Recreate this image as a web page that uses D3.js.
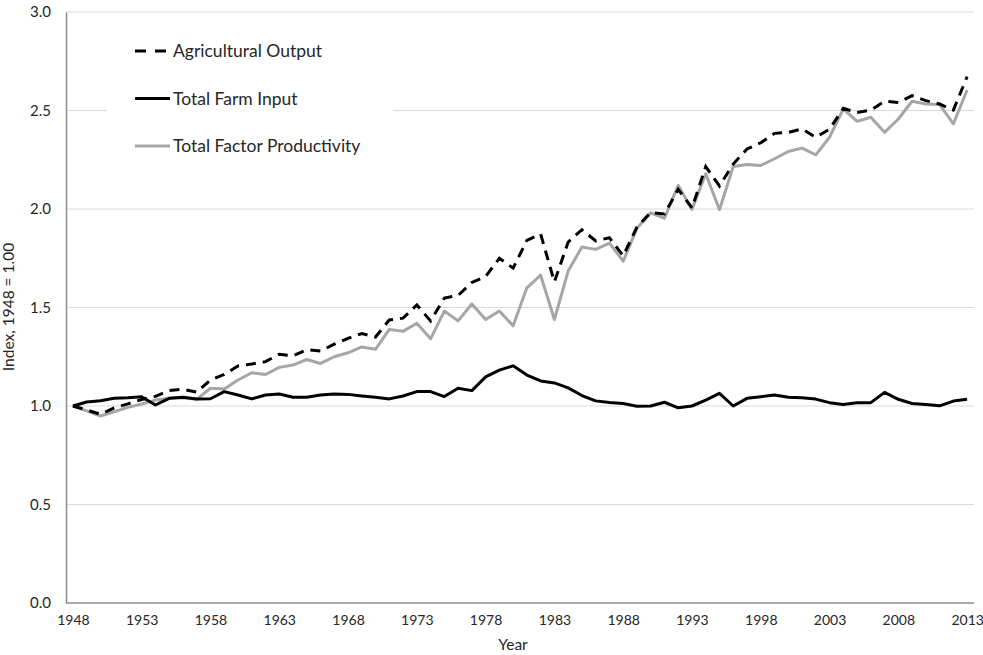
<!DOCTYPE html>
<html><head><meta charset="utf-8">
<script src="https://cdn.jsdelivr.net/npm/d3@7"></script>
<style>
body{margin:0;background:#fff;}
svg text{font-family:Lato,"Open Sans",sans-serif;fill:#262626;}
</style></head>
<body>
<svg id="c" width="983" height="655"></svg>
<script>
const years = d3.range(1948, 2014);
const tickYears = [1948,1953,1958,1963,1968,1973,1978,1983,1988,1993,1998,2003,2008,2013];
const yTicks = [0,0.5,1.0,1.5,2.0,2.5,3.0];
const seriesNames = ["Agricultural Output","Total Farm Input","Total Factor Productivity"];
const output = [1.00,0.98,0.958,0.99,1.011,1.033,1.049,1.078,1.085,1.07,1.132,1.16,1.203,1.213,1.225,1.263,1.255,1.286,1.279,1.314,1.343,1.368,1.35,1.437,1.446,1.513,1.432,1.548,1.561,1.627,1.657,1.75,1.70,1.841,1.873,1.63,1.832,1.895,1.838,1.854,1.762,1.908,1.982,1.975,2.10,2.005,2.215,2.117,2.228,2.305,2.336,2.384,2.389,2.407,2.364,2.405,2.511,2.49,2.502,2.547,2.541,2.575,2.55,2.533,2.502,2.672];
const input = [1.0,1.020,1.027,1.039,1.042,1.047,1.005,1.039,1.044,1.036,1.037,1.073,1.056,1.036,1.056,1.061,1.044,1.044,1.056,1.061,1.059,1.051,1.044,1.036,1.051,1.073,1.073,1.048,1.09,1.078,1.148,1.182,1.204,1.157,1.127,1.117,1.092,1.053,1.026,1.018,1.013,0.999,1.0,1.019,0.991,1.0,1.03,1.064,1.0,1.039,1.047,1.056,1.044,1.042,1.035,1.017,1.008,1.017,1.017,1.069,1.034,1.013,1.008,1.001,1.025,1.034];
const tfp = [1.0,0.975,0.949,0.971,0.993,1.01,1.03,1.039,1.042,1.034,1.09,1.086,1.132,1.169,1.16,1.196,1.208,1.236,1.216,1.25,1.27,1.30,1.288,1.389,1.379,1.42,1.341,1.482,1.432,1.518,1.439,1.482,1.407,1.6,1.664,1.439,1.685,1.807,1.795,1.827,1.735,1.902,1.981,1.953,2.12,1.998,2.179,1.996,2.216,2.226,2.221,2.255,2.292,2.309,2.275,2.364,2.508,2.445,2.466,2.389,2.457,2.547,2.533,2.53,2.432,2.604];

const svg = d3.select("#c");
const L=66, R=974, T=12, B=603;
const x = d3.scalePoint().domain(years).range([L,R]).padding(0.5);
const y = d3.scaleLinear().domain([0,3]).range([B,T]);

// gridlines
svg.append("g").selectAll("line").data(yTicks.filter(d=>d>0)).join("line")
  .attr("x1",L).attr("x2",R).attr("y1",d=>y(d)).attr("y2",d=>y(d))
  .attr("stroke","#d9d9d9").attr("stroke-width",1);

// axes
const yAxis = svg.append("g").attr("transform",`translate(${L},0)`)
  .call(d3.axisLeft(y).tickValues(yTicks).tickFormat(d3.format(".1f")).tickSize(0).tickPadding(15));
yAxis.select(".domain").attr("stroke","#8c8c8c").attr("stroke-width",1.5);
yAxis.selectAll("text").attr("font-size","15px").style("font-family","Lato");

const xAxis = svg.append("g").attr("transform",`translate(0,${B})`)
  .call(d3.axisBottom(x).tickValues(tickYears).tickSize(0).tickPadding(12));
xAxis.select(".domain").attr("stroke","#8c8c8c").attr("stroke-width",1.5).attr("d",`M${L},0H${R}`);
xAxis.selectAll("text").attr("font-size","14px").style("font-family","Lato");

svg.append("text").attr("x",513).attr("y",650).attr("text-anchor","middle").attr("font-size","15.5px").text("Year");
svg.append("text").attr("transform","translate(14,307) rotate(-90)").attr("text-anchor","middle").attr("font-size","15.5px").text("Index, 1948 = 1.00");

const line = d3.line().x((d,i)=>x(years[i])).y(d=>y(d));
svg.append("path").datum(tfp).attr("d",line).attr("fill","none").attr("stroke","#a6a6a6").attr("stroke-width",3).attr("stroke-linejoin","round");
svg.append("path").datum(input).attr("d",line).attr("fill","none").attr("stroke","#000").attr("stroke-width",3).attr("stroke-linejoin","round");
svg.append("path").datum(output).attr("d",line).attr("fill","none").attr("stroke","#000").attr("stroke-width",3).attr("stroke-dasharray","10,7");

// legend
const lg = svg.append("g");
lg.append("rect").attr("x",107).attr("y",28).attr("width",286).attr("height",140).attr("fill","#fff");
const styles=[{c:"#000",d:"11,9"},{c:"#000",d:null},{c:"#a6a6a6",d:null}];
seriesNames.forEach((n,i)=>{
  const yy = 51 + i*47.5;
  lg.append("line").attr("x1",135).attr("x2",i===0?166:170).attr("y1",yy).attr("y2",yy)
    .attr("stroke",styles[i].c).attr("stroke-width",3).attr("stroke-dasharray",styles[i].d);
  lg.append("text").attr("x",173).attr("y",yy).attr("dy","0.35em").attr("font-size","17.5px").text(n);
});
</script>
</body></html>
